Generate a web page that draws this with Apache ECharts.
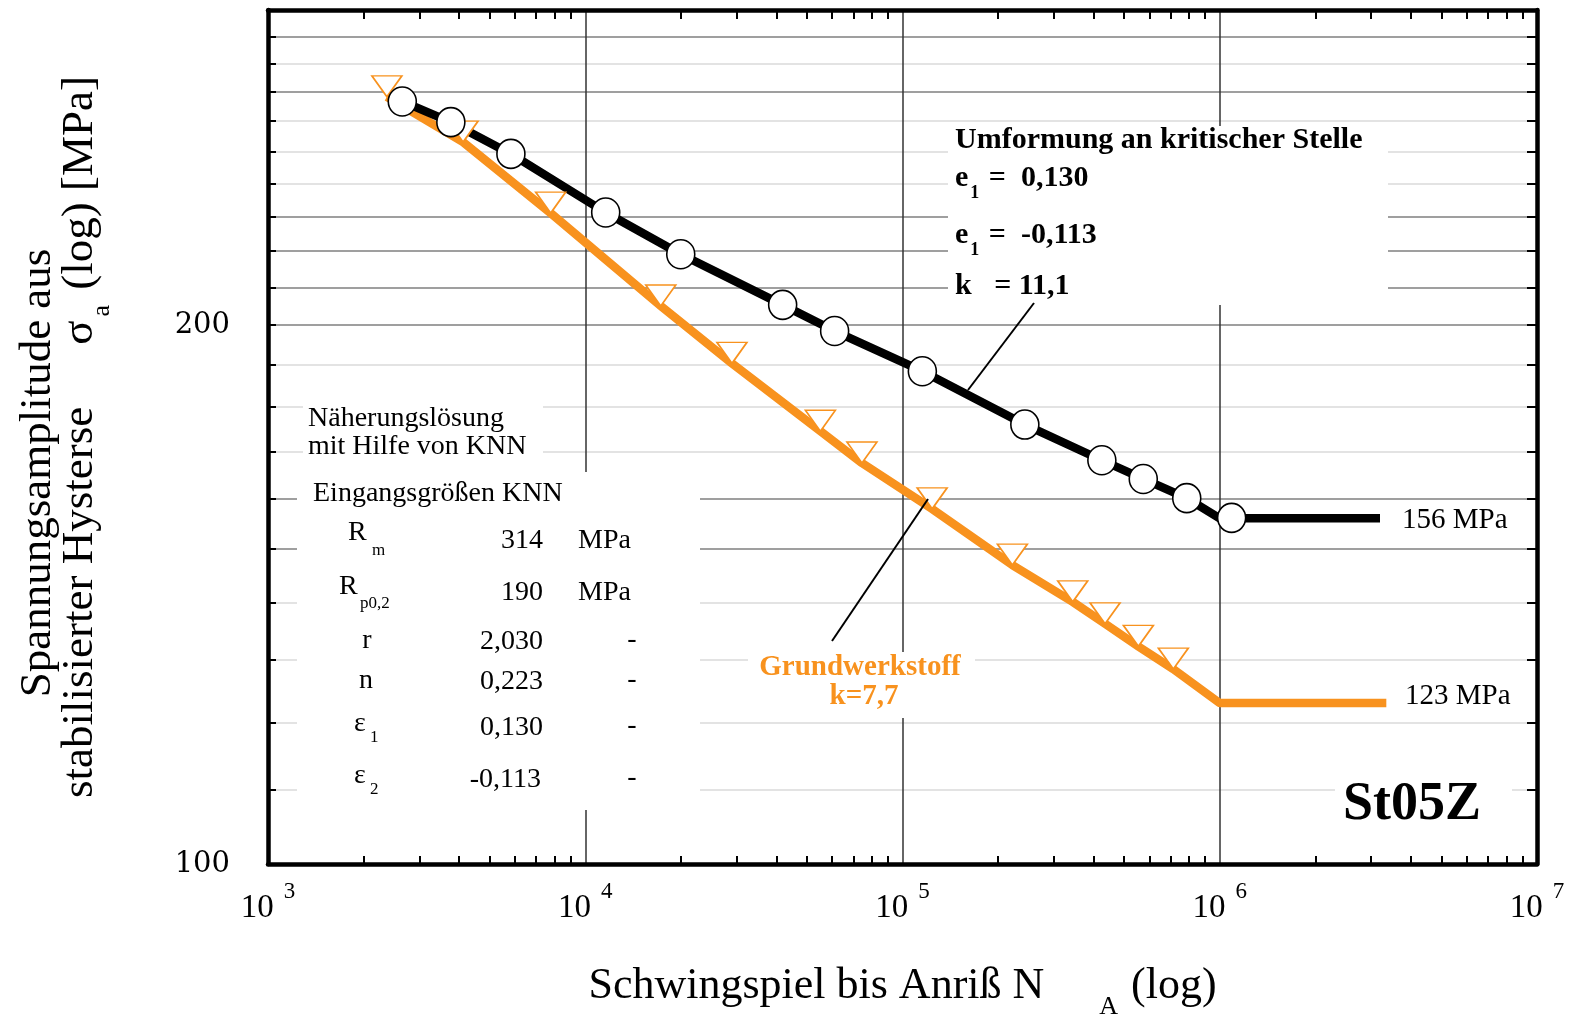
<!DOCTYPE html>
<html>
<head>
<meta charset="utf-8">
<script src="https://cdn.jsdelivr.net/npm/echarts@6.0.0/dist/echarts.min.js"></script>
<style>
html, body { margin: 0; padding: 0; background: #fff; }
#chart { width: 1574px; height: 1020px; }
</style>
</head>
<body>
<div id="chart"></div>
<script>
// St05Z - Spannungsamplitude ueber Schwingspielzahl (doppelt logarithmisch)

// Kreise: Umformung an kritischer Stelle (k = 11,1)
var circleN = [2650, 3770, 5830, 11600, 20000, 41900, 61100, 115500, 243000, 425000, 574000, 787000, 1090000];
var circleS = [266.7, 259.7, 249.3, 231.2, 219.1, 205.3, 198.5, 188.5, 176.0, 168.1, 164.1, 160.1, 156.1];
// schwarze Kurve mit Dauerfestigkeit 156 MPa
var blackLineN = [2650, 3770, 5830, 11600, 20000, 41900, 61100, 115500, 243000, 425000, 574000, 787000, 1000000, 3200000];
var blackLineS = [266.7, 259.7, 249.3, 231.2, 219.1, 205.3, 198.5, 188.5, 176.0, 168.1, 164.1, 160.1, 156, 156];

// Dreiecke: Grundwerkstoff (k = 7,7)
var triangleN = [2370, 4120, 7780, 17300, 29000, 55100, 74500, 124000, 222000, 344000, 435000, 554000, 714000];
var triangleS = [268.3, 253.1, 231.0, 205.0, 190.4, 174.5, 167.5, 157.9, 146.9, 140.1, 136.2, 132.3, 128.5];
// orange Kurve mit Dauerfestigkeit 123 MPa
var orangeLineN = [2370, 4120, 7780, 17300, 29000, 55100, 74500, 124000, 222000, 344000, 435000, 554000, 714000, 1000000, 3350000];
var orangeLineS = [268.3, 253.1, 231.0, 205.0, 190.4, 174.5, 167.5, 157.9, 146.9, 140.1, 136.2, 132.3, 128.5, 123, 123];

// Achsen
var xLabels = [1e3, 1e4, 1e5, 1e6, 1e7];
var yLabels = [100, 200];
var yGrid = [110, 120, 130, 140, 150, 160, 170, 180, 190, 200, 210, 220, 230, 240, 250, 260, 270, 280, 290];
var yGridDark = [150, 160, 200, 210, 220, 230, 270, 290];

var xMinor = [];
for (var d = 3; d < 7; d++) {
	for (var k = 2; k <= 9; k++) {
		xMinor.push(k * Math.pow(10, d));
	}
}

var ORANGE = '#F8921E';
var SERIF = '"Liberation Serif", "Times New Roman", serif';

function pairs(xs, ys) {
	var out = [];
	for (var i = 0; i < xs.length; i++) out.push([xs[i], ys[i]]);
	return out;
}

var gridColors = yGrid.map(function (v) {
	return yGridDark.indexOf(v) >= 0 ? '#7f7f7f' : '#dadada';
});

// Textbausteine
function txt(x, y, text, size, opt) {
	opt = opt || {};
	var font = (opt.bold ? 'bold ' : '') + size + 'px ' + SERIF;
	return {
		type: 'text', x: x, y: y, z: 10,
		style: {
			text: text, font: font, fill: opt.color || '#000',
			align: opt.align || 'left', textAlign: opt.align || 'left',
			verticalAlign: 'middle', textVerticalAlign: 'middle'
		}
	};
}
function box(x, y, w, h) {
	return { type: 'rect', z: 1, shape: { x: x, y: y, width: w, height: h }, style: { fill: '#fff' } };
}
function lead(x1, y1, x2, y2) {
	return { type: 'line', z: 10, shape: { x1: x1, y1: y1, x2: x2, y2: y2 }, style: { stroke: '#000', lineWidth: 2 } };
}
function subText(x, y, base, sub, rest, size, subSize, drop) {
	return {
		type: 'text', x: x, y: y, z: 10,
		style: {
			text: '{b|' + base + '}{s|' + sub + '}{b|' + rest + '}',
			align: 'left', textAlign: 'left', verticalAlign: 'top', textVerticalAlign: 'top',
			rich: {
				b: { fontFamily: SERIF, fontWeight: 'bold', fontSize: size, lineHeight: size, verticalAlign: 'top', fill: '#000' },
				s: { fontFamily: SERIF, fontWeight: 'bold', fontSize: subSize, lineHeight: subSize, padding: [drop, 2, 0, 2], verticalAlign: 'top', fill: '#000' }
			}
		}
	};
}

var graphics = [
	box(948, 126, 440, 179),
	box(303, 398, 240, 64),
	box(297, 472, 403, 338),
	box(748, 652, 227, 66),
	box(1335, 775, 177, 60),
	lead(1034, 303, 968, 390),
	lead(832, 641, 928, 499),

	txt(955, 140, 'Umformung an kritischer Stelle', 30, { bold: true }),
	subText(955, 163, 'e', '1', ' =  0,130', 30, 18, 21),
	subText(955, 220, 'e', '1', ' =  -0,113', 30, 18, 21),
	txt(955, 286, 'k   = 11,1', 30, { bold: true }),

	txt(308, 419, 'Näherungslösung', 28),
	txt(308, 447, 'mit Hilfe von KNN', 28),
	txt(313, 494, 'Eingangsgrößen KNN', 28),

	txt(348, 533, 'R', 28), txt(372, 551, 'm', 17),
	txt(543, 541, '314', 28, { align: 'right' }), txt(578, 541, 'MPa', 28),
	txt(339, 587, 'R', 28), txt(360, 604, 'p0,2', 17),
	txt(543, 593, '190', 28, { align: 'right' }), txt(578, 593, 'MPa', 28),
	txt(367, 641, 'r', 28, { align: 'center' }),
	txt(543, 642, '2,030', 28, { align: 'right' }), txt(632, 640, '-', 28, { align: 'center' }),
	txt(366, 681, 'n', 28, { align: 'center' }),
	txt(543, 682, '0,223', 28, { align: 'right' }), txt(632, 680, '-', 28, { align: 'center' }),
	txt(354, 724, 'ε', 28), txt(370, 738, '1', 17),
	txt(543, 728, '0,130', 28, { align: 'right' }), txt(632, 726, '-', 28, { align: 'center' }),
	txt(354, 776, 'ε', 28), txt(370, 790, '2', 17),
	txt(541, 780, '-0,113', 28, { align: 'right' }), txt(632, 778, '-', 28, { align: 'center' }),

	txt(860, 668, 'Grundwerkstoff', 29, { bold: true, color: ORANGE, align: 'center' }),
	txt(864, 697, 'k=7,7', 29, { bold: true, color: ORANGE, align: 'center' }),

	txt(1402, 520, '156 MPa', 29),
	txt(1405, 696, '123 MPa', 29),
	txt(1412, 805, 'St05Z', 54, { bold: true, align: 'center' })
];

var chart = echarts.init(document.getElementById('chart'));

var option = {
	backgroundColor: '#fff',
	animation: false,
	grid: { left: 268, right: 37, top: 10, bottom: 156, containLabel: false, outerBoundsMode: 'none' },
	xAxis: [
		{
			type: 'log', logBase: 10, min: 1e3, max: 1e7, position: 'bottom',
			axisLine: { show: true, onZero: false, lineStyle: { color: '#000', width: 4.5 } },
			axisTick: { show: true, inside: true, length: 8, customValues: xMinor, lineStyle: { color: '#000', width: 2 } },
			axisLabel: {
				show: true, margin: 16, customValues: xLabels, showMinLabel: true, showMaxLabel: true,
				formatter: function (v) {
					return '{b|10}{s|' + Math.round(Math.log10(v)) + '}';
				},
				rich: {
					b: { fontFamily: SERIF, fontSize: 33, lineHeight: 33, padding: [12, 0, 0, 0], verticalAlign: 'top', color: '#000' },
					s: { fontFamily: SERIF, fontSize: 23, lineHeight: 23, padding: [0, 0, 0, 10], verticalAlign: 'top', color: '#000' }
				}
			},
			splitLine: { show: false },
			name: '{t|Schwingspiel bis Anriß N}{sub|A}{t|(log)}',
			nameLocation: 'middle', nameGap: 100, nameMoveOverlap: false,
			nameTextStyle: {
				rich: {
					t: { fontFamily: SERIF, fontSize: 44, lineHeight: 44, verticalAlign: 'top', color: '#000' },
					sub: { fontFamily: SERIF, fontSize: 26, lineHeight: 26, padding: [30, 13, 0, 55], verticalAlign: 'top', color: '#000' }
				}
			}
		},
		{
			type: 'log', logBase: 10, min: 1e3, max: 1e7, position: 'top',
			axisLine: { show: true, onZero: false, lineStyle: { color: '#000', width: 4.5 } },
			axisTick: { show: true, inside: true, length: 9, customValues: xMinor, lineStyle: { color: '#000', width: 2 } },
			axisLabel: { show: false },
			splitLine: { show: false }
		},
		{
			type: 'log', logBase: 10, min: 1e3, max: 1e7, position: 'bottom',
			axisLine: { show: false },
			axisTick: { show: false, customValues: [1e4, 1e5, 1e6] },
			axisLabel: { show: false },
			splitLine: { show: true, lineStyle: { color: '#333', width: 1.5 } }
		}
	],
	yAxis: [
		{
			type: 'log', logBase: 10, min: 100, max: 300, position: 'left',
			axisLine: { show: true, onZero: false, lineStyle: { color: '#000', width: 4.5 } },
			axisTick: { show: true, inside: true, length: 8, customValues: yGrid, lineStyle: { color: '#000', width: 2 } },
			axisLabel: {
				show: true, margin: 38, customValues: yLabels,
				fontFamily: '"DejaVu Serif", serif', fontSize: 29, color: '#000'
			},
			splitLine: { show: true, lineStyle: { color: gridColors, width: 1.5 } },
			name: '{t|Spannungsamplitude aus}{pad| }\n{t|stabilisierter Hysterse}{sig|σ}{sa|a}{t| (log) [MPa]}',
			nameLocation: 'middle', nameRotate: 90, nameGap: 168, nameMoveOverlap: false,
			nameTextStyle: {
				rich: {
					t: { fontFamily: SERIF, fontSize: 45, lineHeight: 42, verticalAlign: 'top', color: '#000' },
					pad: { fontFamily: SERIF, fontSize: 45, lineHeight: 42, width: 72, verticalAlign: 'top' },
					sig: { fontFamily: SERIF, fontSize: 45, lineHeight: 42, padding: [0, 0, 0, 62], verticalAlign: 'top', color: '#000' },
					sa: { fontFamily: SERIF, fontSize: 26, lineHeight: 26, padding: [31, 4, 0, 4], verticalAlign: 'top', color: '#000' }
				}
			}
		},
		{
			type: 'log', logBase: 10, min: 100, max: 300, position: 'right',
			axisLine: { show: true, onZero: false, lineStyle: { color: '#000', width: 4.5 } },
			axisTick: { show: true, inside: true, length: 10, customValues: yGrid, lineStyle: { color: '#000', width: 2 } },
			axisLabel: { show: false },
			splitLine: { show: false }
		}
	],
	series: [
		{
			name: 'Grundwerkstoff', type: 'line', xAxisIndex: 0, yAxisIndex: 0,
			data: pairs(orangeLineN, orangeLineS),
			showSymbol: false, symbol: 'none', z: 2,
			lineStyle: { color: ORANGE, width: 8.5, join: 'round', opacity: 1 }
		},
		{
			name: 'Umformung', type: 'line', xAxisIndex: 0, yAxisIndex: 0,
			data: pairs(blackLineN, blackLineS),
			showSymbol: false, symbol: 'none', z: 3,
			lineStyle: { color: '#000', width: 8.5, join: 'round', opacity: 1 }
		},
		{
			name: 'Grundwerkstoff Punkte', type: 'scatter', xAxisIndex: 0, yAxisIndex: 0,
			data: pairs(triangleN, triangleS),
			symbol: 'path://M0,0L30,0L15,21Z', symbolSize: [30, 21], symbolOffset: [0, -10.5], z: 4,
			itemStyle: { color: '#fff', borderColor: ORANGE, borderWidth: 1.6, opacity: 1 }
		},
		{
			name: 'Umformung Punkte', type: 'scatter', xAxisIndex: 0, yAxisIndex: 0,
			data: pairs(circleN, circleS),
			symbol: 'circle', symbolSize: [28, 29], z: 5,
			itemStyle: { color: '#fff', borderColor: '#000', borderWidth: 1.6, opacity: 1 }
		}
	],
	graphic: graphics
};

chart.setOption(option);
</script>
</body>
</html>
